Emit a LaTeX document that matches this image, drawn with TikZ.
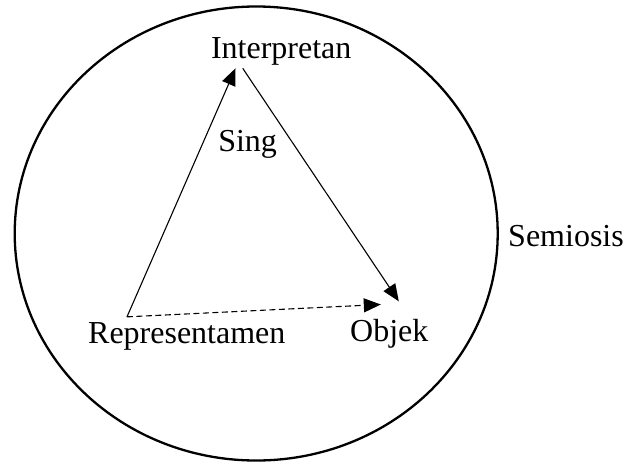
\documentclass[tikz,border=0pt]{standalone}
\usepackage{fontspec}
\setmainfont{Liberation Serif}
\usetikzlibrary{arrows.meta}
\begin{document}
\begin{tikzpicture}[x=1pt,y=-1pt,
  lbl/.style={inner sep=0pt,font=\fontsize{32}{38}\selectfont,anchor=base},
  arr/.style={line width=1.1pt,-{Triangle[length=17pt,width=14pt]}},
  darr/.style={arr,dash pattern=on 6pt off 3.5pt}]
\useasboundingbox (0,0) rectangle (623,463);
\draw[line width=2.3pt] (256.2,233.5) ellipse [x radius=241.5pt, y radius=227pt];
\node[lbl] (int) at (281.2,58.3) {Interpretan};
\node[lbl] (sing) at (247.6,151.7) {Sing};
\node[lbl,anchor=base west] (semi) at (508,246.7) {Semiosis};
\node[lbl] (rep) at (186.8,343) {Representamen};
\node[lbl] (obj) at (389.3,341.7) {Objek};
\coordinate (rs) at ([xshift=39pt,yshift=5pt]rep.north west);
\draw[arr] (rs) -- ([xshift=24.7pt,yshift=-3pt]int.south west);
\draw[arr] ([xshift=31.9pt,yshift=-3pt]int.south west) -- ([xshift=48.8pt,yshift=18pt]obj.north west);
\draw[darr] (rs) -- ([xshift=30.8pt,yshift=14.8pt]obj.north west);
\end{tikzpicture}
\end{document}
